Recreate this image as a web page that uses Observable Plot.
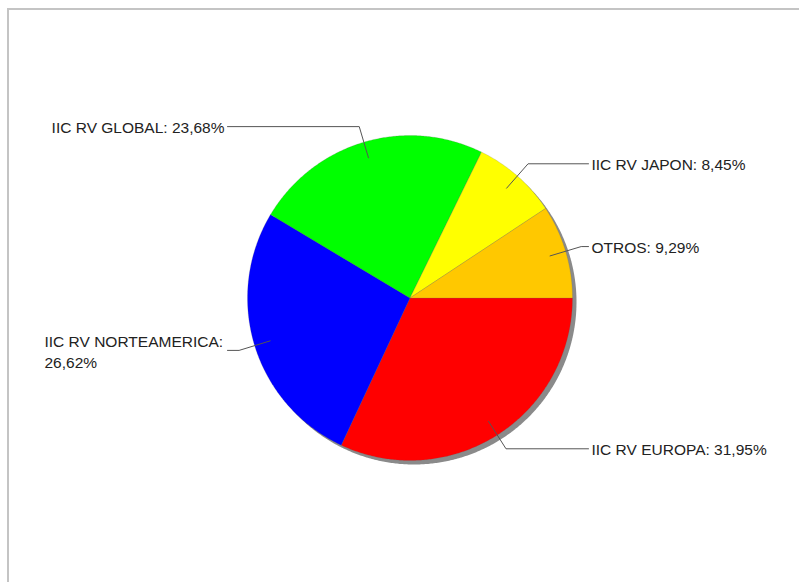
<!DOCTYPE html>
<html><head><meta charset="utf-8">
<script src="https://cdn.jsdelivr.net/npm/d3@7"></script>
<script src="https://cdn.jsdelivr.net/npm/@observablehq/plot@0.6"></script>
<style>
html,body{margin:0;padding:0;background:#fff;overflow:hidden}
#wrap{position:relative;width:799px;height:582px;overflow:hidden;background:#fff}
#border{position:absolute;left:7px;top:8px;width:900px;height:700px;border:2px solid #c4c4c4;box-sizing:border-box;pointer-events:none}
#chart{position:absolute;left:0;top:0}
</style></head><body>
<div id="wrap"><div id="chart"></div><div id="border"></div></div>
<script>
// Data
const names = ["IIC RV EUROPA", "IIC RV NORTEAMERICA", "IIC RV GLOBAL", "IIC RV JAPON", "OTROS"];
const values = [31.95, 26.62, 23.68, 8.45, 9.29];
const colors = ["#ff0000", "#0000ff", "#00ff00", "#ffff00", "#ffc800"];

// Layout constants (pixels)
const W = 799, H = 582;
const cx = 409.5, cy = 297.5, r = 162.5;
const rightLineEnd = 588, rightTextX = 591;
const leftLineEnd = 227, leftTextX = 224, wrapTextX = 44;

const total = d3.sum(values);
const fmt = v => v.toFixed(2).replace(".", ",") + "%";

function arcPts(x0, y0, a0, a1, withCenter) {
  const pts = [];
  if (withCenter) pts.push({x: x0, y: y0});
  const n = Math.max(2, Math.ceil((a1 - a0) / (Math.PI / 360)));
  for (let i = 0; i <= n; i++) {
    const a = a0 + (a1 - a0) * i / n;
    pts.push({x: x0 + r * Math.cos(a), y: y0 + r * Math.sin(a)});
  }
  if (withCenter) pts.push({x: x0, y: y0});
  return pts;
}

let acc = 0;
const slices = values.map((v, i) => {
  const a0 = acc / total * 2 * Math.PI;
  acc += v;
  const a1 = acc / total * 2 * Math.PI;
  const mid = (a0 + a1) / 2;
  const right = Math.cos(mid) > 0;
  const p9 = {x: cx + 0.9 * r * Math.cos(mid), y: cy + 0.9 * r * Math.sin(mid)};
  const p11 = {x: cx + 1.1 * r * Math.cos(mid), y: cy + 1.1 * r * Math.sin(mid)};
  const pend = {x: right ? rightLineEnd : leftLineEnd, y: p11.y};
  const full = `${names[i]}: ${fmt(v)}`;
  const wrap = !right && full.length > 24;
  const label = wrap ? `${names[i]}:\n${fmt(v)}` : full;
  return {name: names[i], color: colors[i], a0, a1, mid, right, wrap, label,
          pts: arcPts(cx, cy, a0, a1, true), link: [p9, p11, pend],
          tx: right ? rightTextX : (wrap ? wrapTextX : leftTextX), ty: p11.y};
});

const marks = [];
// shadow
marks.push(Plot.line(arcPts(cx + 4, cy + 4, 0, 2 * Math.PI, false), {x: "x", y: "y", fill: "#8a8a8a", stroke: "none"}));
// slices
for (const s of slices) {
  marks.push(Plot.line(s.pts, {x: "x", y: "y", fill: s.color, stroke: "#666", strokeWidth: 0.4, strokeOpacity: 0.5}));
}
// leader lines
for (const s of slices) {
  marks.push(Plot.line(s.link, {x: "x", y: "y", stroke: "#555", strokeWidth: 1}));
}
// labels
const textOpts = {x: "tx", y: "ty", text: "label", fill: "#222", fontSize: 15.5, lineHeight: 1.35};
marks.push(Plot.text(slices.filter(d => d.right || d.wrap), {...textOpts, textAnchor: "start"}));
marks.push(Plot.text(slices.filter(d => !d.right && !d.wrap), {...textOpts, textAnchor: "end"}));

const chart = Plot.plot({
  width: W, height: H,
  marginTop: 0, marginRight: 0, marginBottom: 0, marginLeft: 0,
  x: {domain: [0, W], range: [0, W], axis: null},
  y: {domain: [0, H], range: [0, H], axis: null},
  style: {fontFamily: "'Liberation Sans', Arial, sans-serif", background: "#fff"},
  marks
});
document.getElementById("chart").appendChild(chart);
</script>
</body></html>
